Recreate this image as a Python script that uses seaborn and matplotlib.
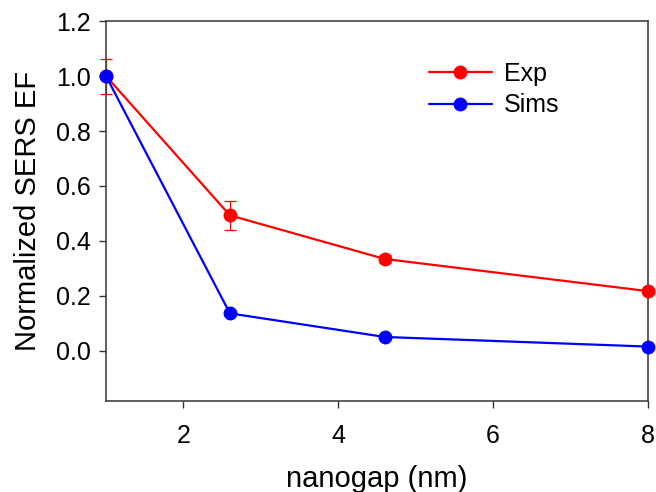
import matplotlib
matplotlib.use("Agg")
import matplotlib.pyplot as plt
import seaborn as sns
import pandas as pd
from matplotlib.lines import Line2D

nanogap = [1.0, 2.6, 4.6, 8.0]
exp_vals = [1.0, 0.493, 0.334, 0.217]
exp_err = [0.064, 0.053, 0.015, 0.0]
sims_vals = [1.0, 0.136, 0.050, 0.015]
series_names = ["Exp", "Sims"]
colors = {"Exp": "#ff0000", "Sims": "#0000ff"}

df = pd.DataFrame({
    "nanogap": nanogap + nanogap,
    "value": exp_vals + sims_vals,
    "series": [series_names[0]] * len(nanogap) + [series_names[1]] * len(nanogap),
})

sns.set_style("ticks")
plt.rcParams["font.family"] = ["Liberation Sans", "DejaVu Sans"]
plt.rcParams["text.color"] = "black"
plt.rcParams["axes.labelcolor"] = "black"
plt.rcParams["xtick.color"] = "black"
plt.rcParams["ytick.color"] = "black"

fig = plt.figure(figsize=(6.56, 4.92), dpi=100)
ax = fig.add_axes([0.1616, 0.1856, 0.8262, 0.7714])

ax.errorbar(nanogap, exp_vals, yerr=exp_err, fmt="none", ecolor=colors["Exp"],
            elinewidth=0.9, capsize=4.3, capthick=0.9, zorder=2, clip_on=False)

sns.lineplot(data=df, x="nanogap", y="value", hue="series", palette=colors,
             marker="o", markersize=10, markeredgewidth=0, linewidth=1.6,
             ax=ax, legend=False, zorder=3, clip_on=False)

ax.set_xlim(1, 8)
ax.set_ylim(-0.182, 1.2)
ax.set_xticks([2, 4, 6, 8])
ax.set_yticks([0.0, 0.2, 0.4, 0.6, 0.8, 1.0, 1.2])
ax.set_yticklabels([f"{v:.1f}" for v in [0.0, 0.2, 0.4, 0.6, 0.8, 1.0, 1.2]])
ax.tick_params(axis="both", labelsize=18, direction="out", length=5, width=1,
               color="#333333", labelcolor="black", pad=6)
ax.tick_params(axis="x", pad=12)
for s in ax.spines.values():
    s.set_linewidth(1.2)
    s.set_color("#444444")

ax.set_xlabel("nanogap (nm)", fontsize=21, labelpad=12)
ax.set_ylabel("Normalized SERS EF", fontsize=21, labelpad=10)

handles = [Line2D([0], [0], color=colors[n], marker="o", markersize=10,
                  markeredgewidth=0, linewidth=1.6) for n in series_names]
ax.legend(handles, series_names, loc="upper left", bbox_to_anchor=(0.62, 0.92),
          bbox_transform=fig.transFigure, frameon=False, fontsize=18,
          handlelength=2.5, handletextpad=0.5, labelspacing=0.3)

fig.savefig("out.png", dpi=100)
